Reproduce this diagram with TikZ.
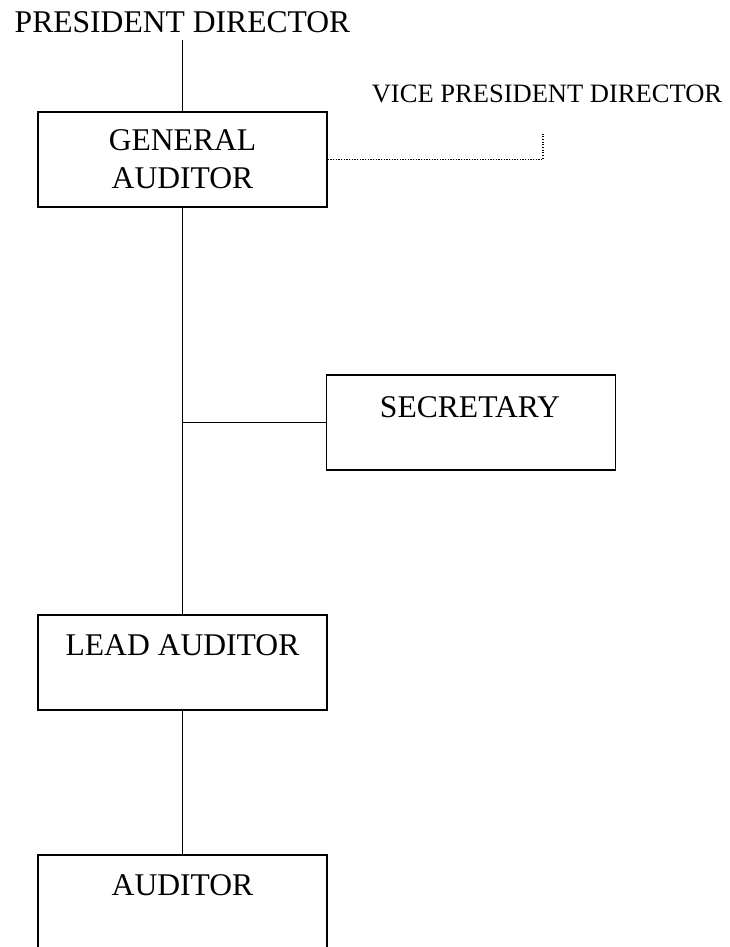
\documentclass[tikz,border=0pt]{standalone}
\usepackage{fontspec}
\setmainfont{Liberation Serif}
\begin{document}
\begin{tikzpicture}[x=0.75pt,y=-0.75pt,
  box/.style={draw, line width=1.2pt, minimum width=216.75pt, minimum height=71.25pt, inner sep=0pt, anchor=center},
  lbl/.style={font=\fontsize{23.7}{28}\selectfont, inner sep=0pt, anchor=base},
  slbl/.style={font=\fontsize{19.9}{24}\selectfont, inner sep=0pt, anchor=base},
  conn/.style={line width=1.2pt},
  dconn/.style={line width=1pt, dash pattern=on 0.8pt off 1.2pt}]
\useasboundingbox (0,0) rectangle (730,947);
\clip (0,0) rectangle (730,947);
% boxes
\node[box] (ga) at (182.5,159.5) {};
\node[box] (sec) at (471,422.5) {};
\node[box] (la) at (182.5,662.5) {};
\node[box] (au) at (182.5,902.5) {};
% texts
\node[lbl] (pd) at (182.5,32) {PRESIDENT DIRECTOR};
\node[slbl] (vp) at (547,102) {VICE PRESIDENT DIRECTOR};
\node[lbl] (gat1) at (182.5,150) {GENERAL};
\node[lbl] (gat2) at (182.5,188) {AUDITOR};
\node[lbl] (sect) at (470,417) {SECRETARY};
\node[lbl] (lat) at (182.5,655) {LEAD AUDITOR};
\node[lbl] (aut) at (182.5,895) {AUDITOR};
% connectors
\coordinate (pdb) at (182.5,40);
\coordinate (vpc) at (543,159.5);
\coordinate (vpe) at (543,133);
\draw[conn] (pdb) -- (ga.north);
\draw[conn] (ga.south) -- (la.north);
\draw[conn] (sec.west) -- (sec.west -| ga.south);
\draw[conn] (la.south) -- (au.north);
\draw[dconn] (ga.east) -- (vpc) -- (vpe);
\end{tikzpicture}
\end{document}
